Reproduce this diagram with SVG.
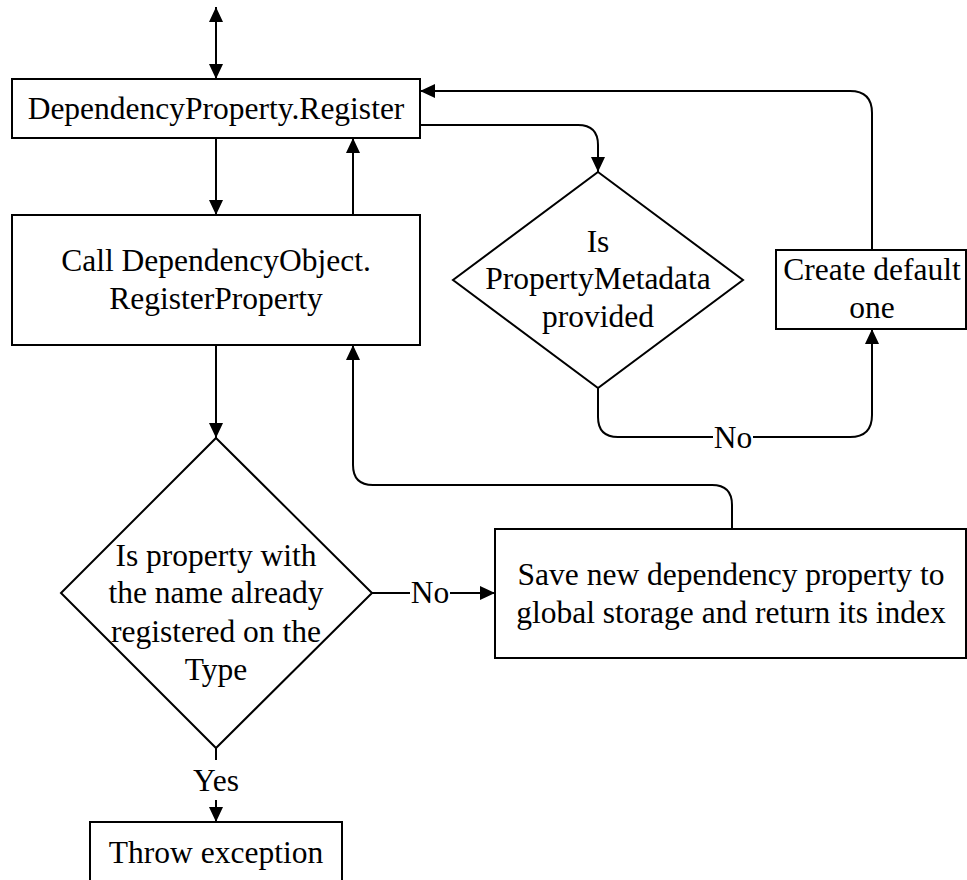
<svg xmlns="http://www.w3.org/2000/svg" width="967" height="880" viewBox="0 0 967 880">
  <style>
    .box { fill: #ffffff; stroke: #000000; stroke-width: 2; }
    .edge { fill: none; stroke: #000000; stroke-width: 2; }
    .arrow { marker-end: url(#head); }
    text { font-family: "Liberation Serif", "Times New Roman", serif; font-size: 31.5px; fill: #000000; text-anchor: middle; }
    .lbl-bg { fill: #ffffff; stroke: none; }
  </style>
  <defs>
    <marker id="head" markerUnits="userSpaceOnUse" markerWidth="16" markerHeight="14" refX="15" refY="7" orient="auto-start-reverse">
      <path d="M0,0 L15,7 L0,14 z" fill="#000000"/>
    </marker>
  </defs>

  <rect width="967" height="880" fill="#ffffff"/>

  <!-- connectors -->
  <g id="connectors">
    <!-- entry / exit of Register -->
    <path class="edge" d="M216,7 V79" marker-start="url(#head)" marker-end="url(#head)"/>
    <!-- Register -> RegisterProperty -->
    <path class="edge arrow" d="M216,138 V215"/>
    <!-- RegisterProperty -> Register -->
    <path class="edge arrow" d="M353,215 V138"/>
    <!-- Register -> metadata check -->
    <path class="edge arrow" d="M420,125 H578 Q598,125 598,145 V172"/>
    <!-- default metadata -> Register -->
    <path class="edge arrow" d="M872,250 V113 Q872,91 850,91 H420"/>
    <!-- metadata check: No -> default metadata -->
    <path class="edge arrow" d="M598,388 V417 Q598,437 618,437 H850 Q872,437 872,415 V329"/>
    <rect class="lbl-bg" x="713" y="424" width="40" height="26"/>
    <text x="733" y="448">No</text>
    <!-- RegisterProperty -> name check -->
    <path class="edge arrow" d="M216,345 V438"/>
    <!-- name check: No -> save -->
    <path class="edge arrow" d="M372,593 H495"/>
    <rect class="lbl-bg" x="410" y="580" width="40" height="26"/>
    <text x="430" y="603">No</text>
    <!-- save -> RegisterProperty -->
    <path class="edge arrow" d="M732,529 V505 Q732,485 712,485 H373 Q353,485 353,465 V345"/>
    <!-- name check: Yes -> throw -->
    <path class="edge" d="M216,748 V760"/>
    <text x="216" y="791">Yes</text>
    <path class="edge arrow" d="M216,800 V822"/>
  </g>

  <g id="register">
    <rect class="box" x="12" y="79" width="408" height="59"/>
    <text x="216" y="119">DependencyProperty.Register</text>
  </g>

  <g id="register-property">
    <rect class="box" x="12" y="215" width="408" height="130"/>
    <text x="216" y="271">Call DependencyObject.</text>
    <text x="216" y="309">RegisterProperty</text>
  </g>

  <g id="metadata-check">
    <path class="box" d="M598,172 L743,280 L598,388 L453,280 Z"/>
    <text x="598" y="252">Is</text>
    <text x="598" y="289">PropertyMetadata</text>
    <text x="598" y="327">provided</text>
  </g>

  <g id="default-metadata">
    <rect class="box" x="776" y="250" width="190" height="79"/>
    <text x="872" y="280">Create default</text>
    <text x="872" y="318">one</text>
  </g>

  <g id="name-check">
    <path class="box" d="M216,438 L372,593 L216,748 L61,593 Z"/>
    <text x="216" y="566">Is property with</text>
    <text x="216" y="603">the name already</text>
    <text x="216" y="642">registered on the</text>
    <text x="216" y="680">Type</text>
  </g>

  <g id="save">
    <rect class="box" x="495" y="529" width="471" height="129"/>
    <text x="731" y="585">Save new dependency property to</text>
    <text x="731" y="623">global storage and return its index</text>
  </g>

  <g id="throw">
    <rect class="box" x="90" y="822" width="252" height="64"/>
    <text x="216" y="863">Throw exception</text>
  </g>
</svg>
